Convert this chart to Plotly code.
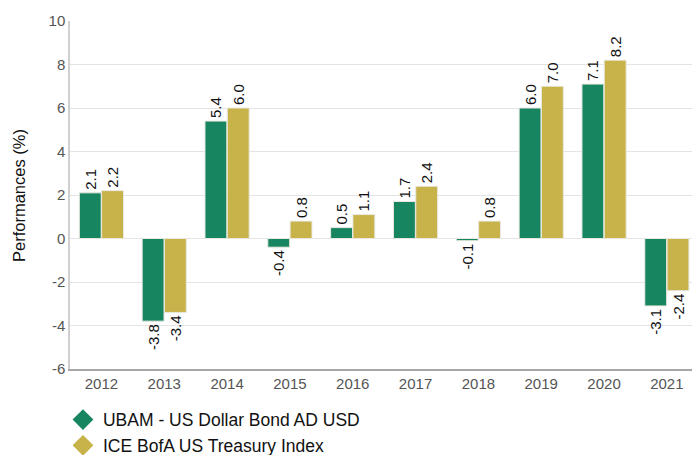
import plotly.graph_objects as go

years = ["2012", "2013", "2014", "2015", "2016", "2017", "2018", "2019", "2020", "2021"]
ubam = [2.1, -3.8, 5.4, -0.4, 0.5, 1.7, -0.1, 6.0, 7.1, -3.1]
ice = [2.2, -3.4, 6.0, 0.8, 1.1, 2.4, 0.8, 7.0, 8.2, -2.4]
names = ["UBAM - US Dollar Bond AD USD", "ICE BofA US Treasury Index"]
colors = ["#17855F", "#C8B24A"]
yticks = [-6, -4, -2, 0, 2, 4, 6, 8, 10]
yticktext = [str(v) for v in yticks]

FONT = "Arial, Liberation Sans, sans-serif"
fig = go.Figure()
for vals, name, col in [(ubam, names[0], colors[0]), (ice, names[1], colors[1])]:
    fig.add_trace(go.Bar(
        x=years, y=vals, name=name, marker=dict(color=col, line=dict(color="#E8E8E0", width=1)),
        text=[f"{v:.1f}" for v in vals], textposition="outside", textangle=-90,
        textfont=dict(family=FONT, size=15, color="#111111"),
        cliponaxis=False, constraintext="none", showlegend=False, hoverinfo="skip"))
for name, col in zip(names, colors):
    fig.add_trace(go.Scatter(x=[None], y=[None], mode="markers", name=name,
                             marker=dict(symbol="diamond", size=20, color=col)))

fig.update_layout(
    width=692, height=455, barmode="group", bargap=0.29, bargroupgap=0.02,
    plot_bgcolor="white", paper_bgcolor="white",
    margin=dict(l=70, r=0, t=21, b=86, autoexpand=False),
    font=dict(family=FONT, color="#555555", size=15),
    xaxis=dict(showline=True, linecolor="#A6A6A6", linewidth=1.5, ticks="",
               range=[-0.5, 9.4], automargin=False,
               tickfont=dict(size=15, color="#555555")),
    yaxis=dict(range=[-6, 10], tickvals=yticks, ticktext=yticktext, showgrid=True, gridcolor="#E4E4E4",
               zeroline=True, zerolinecolor="#E4E4E4", zerolinewidth=1, automargin=False,
               showline=True, linecolor="#D0D0D0", linewidth=1.5,
               tickfont=dict(size=15, color="#555555")),
    legend=dict(orientation="v", x=-0.0113, xanchor="left", y=-0.094, yanchor="top",
                font=dict(size=17.5, color="#111111"), itemsizing="trace",
                tracegroupgap=0, itemwidth=30, bgcolor="rgba(0,0,0,0)"),
    annotations=[dict(text="Performances (%)", textangle=-90, xref="paper", yref="paper",
                      x=-0.082, y=0.5, xanchor="center", yanchor="middle", showarrow=False,
                      font=dict(size=16.5, color="#111111", family=FONT))],
)
fig.write_html("out.html", config={"displayModeBar": False},
               post_script="document.body.style.margin='0';document.body.style.overflow='hidden';")
